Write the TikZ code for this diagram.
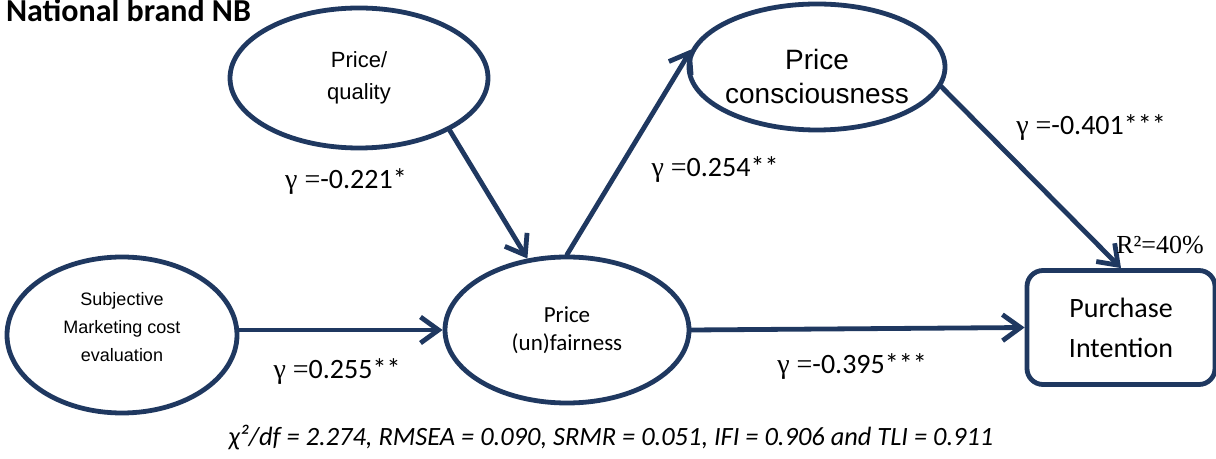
\documentclass[tikz,border=0pt]{standalone}
\usepackage{fontspec}
\setmainfont{Carlito}
\newfontfamily\arialfont{Liberation Sans}
\newfontfamily\timesfont{Liberation Serif}
\usetikzlibrary{shapes.geometric}
\usetikzlibrary{arrows.meta}
\definecolor{pathnavy}{RGB}{31,56,96}

\begin{document}
\begin{tikzpicture}[x=0.5pt, y=-0.5pt,
    latent/.style={ellipse, draw=pathnavy, line width=2.4pt, align=center, inner sep=0pt},
    path arrow/.style={line width=2.4pt, pathnavy, line cap=round, -{Straight Barb[length=9pt,width=13pt]}},
    coef/.style={font=\fontsize{14}{16}\selectfont}]
    \useasboundingbox (0,0) rectangle (1216,459);
    \path
        (-1,22) node(title)[anchor=base west, font=\bfseries\fontsize{16}{18}\selectfont]{National brand NB}
        (359,78) node(pq)[latent, minimum width=129pt, minimum height=70pt, font=\arialfont\fontsize{11}{16}\selectfont]{Price/\\quality}
        (817,67) node(cons)[latent, minimum width=128pt, minimum height=63pt,
            label={[yshift=-4.5pt, align=center, font=\arialfont\fontsize{14}{17}\selectfont]center:Price\\consciousness}]{}
        (122,335) node(smce)[latent, minimum width=115pt, minimum height=78pt,
            label={[yshift=4pt, align=center, font=\arialfont\fontsize{9}{14}\selectfont]center:Subjective\\Marketing cost\\evaluation}]{}
        (567,330) node(fair)[latent, minimum width=122pt, minimum height=73pt, font=\fontsize{11.5}{14}\selectfont]{Price\\(un)fairness}
        (1121,327.5) node(pi)[draw=pathnavy, line width=2.4pt, rounded corners=8pt, minimum width=94pt, minimum height=57pt,
            align=center, font=\fontsize{14}{20}\selectfont]{Purchase\\Intention};
    \draw [path arrow] (pq.-30) -- (fair.119);
    \draw [path arrow] (smce.east |- fair.west) -- (fair.west);
    \draw [path arrow] (fair.north) -- (cons.172);
    \draw [path arrow] (cons.-9) -- (pi.north);
    \draw [path arrow] (fair.east) -- (pi.west);
    % path coefficients
    \path
        (346,182) node(gpq)[coef]{{\timesfont γ =}-0.221*}
        (337,372) node(gsmce)[coef]{{\timesfont γ =}0.255**}
        (715,170) node(gfair)[coef]{{\timesfont γ =}0.254**}
        (1091,128) node(gcons)[coef]{{\timesfont γ =}-0.401***}
        (852,367) node(gpi)[coef]{{\timesfont γ =}-0.395***}
        (1160,245) node(rsq)[font=\timesfont\fontsize{13}{15}\selectfont]{R²=40\%}
        (611,438) node(fit)[font=\itshape\fontsize{13.2}{15}\selectfont]{χ²/df = 2.274, RMSEA = 0.090, SRMR = 0.051, IFI = 0.906 and TLI = 0.911};
\end{tikzpicture}
\end{document}
